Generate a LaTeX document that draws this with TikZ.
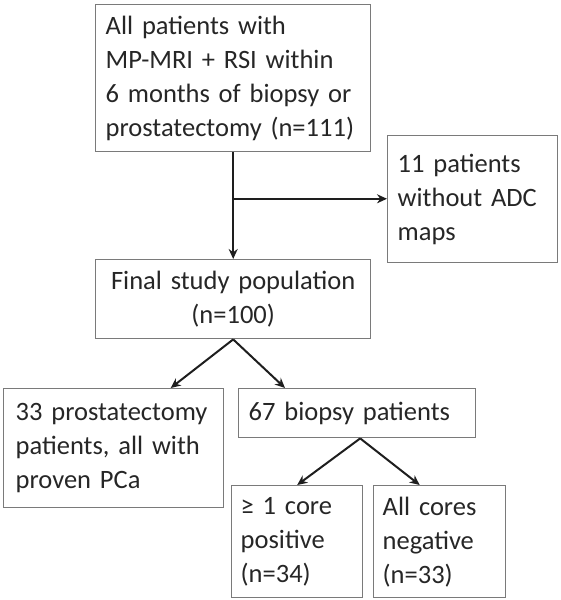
\documentclass[tikz,border=0pt]{standalone}
\usepackage{fontspec}
\setmainfont[WordSpace=0.85]{Carlito}
\usetikzlibrary{arrows.meta,calc}
\definecolor{boxline}{HTML}{7A7A7A}
\definecolor{txt}{HTML}{262626}
\definecolor{arr}{HTML}{1E1E1E}
\begin{document}
\begin{tikzpicture}[x=1pt,y=-1pt,
  fbox/.style={draw=boxline, line width=1.4pt, rectangle, anchor=north west,
    text=txt, font=\fontsize{26.5}{34}\selectfont, inner xsep=10pt, inner ysep=0pt,
    align=left},
  conn/.style={draw=arr, line width=2pt, -{Stealth[length=10pt,width=9pt]}}]
\useasboundingbox (0,0) rectangle (561,600);
\node[fbox, minimum width=275pt, minimum height=147pt, text width=255pt] (top) at (95,4)
  {\mbox{All patients with}\\\mbox{MP-MRI + RSI within}\\\mbox{6 months of biopsy or}\\\mbox{prostatectomy (n=111)}};
\node[fbox, minimum width=170pt, minimum height=127pt, text width=150pt] (excl) at (387,135)
  {\mbox{11 patients}\\\mbox{without ADC}\\maps};
\node[fbox, minimum width=275pt, minimum height=79pt, text width=255pt, align=center] (final) at (95,259)
  {\mbox{Final study population}\\(n=100)};
\node[fbox, minimum width=220pt, minimum height=119pt, inner xsep=12pt, text width=196pt] (prost) at (3,388)
  {\mbox{33 prostatectomy}\\\mbox{patients, all with}\\\mbox{proven PCa}};
\node[fbox, minimum width=237pt, minimum height=49pt, text width=217pt] (biopsy) at (238,388)
  {\mbox{67 biopsy patients}};
\node[fbox, minimum width=131pt, minimum height=112pt, text width=113pt, inner xsep=9pt] (pos) at (231,485)
  {\mbox{≥ 1 core}\\positive\\(n=34)};
\node[fbox, minimum width=132pt, minimum height=112pt, text width=114pt, inner xsep=9pt] (neg) at (373,485)
  {\mbox{All cores}\\negative\\(n=33)};
\coordinate (branch) at ($(top.south)!0.435!(final.north)$);
\draw[conn] (top.south) -- (final.north);
\draw[conn] (branch) -- (branch -| excl.west);
\draw[conn] (final.south) -- ($(prost.north)+(57,0)$);
\draw[conn] (final.south) -- ($(biopsy.north west)+(47,0)$);
\draw[conn] ($(biopsy.south)+(3,0)$) -- (pos.north);
\draw[conn] ($(biopsy.south)+(3,0)$) -- ($(neg.north)+(-20,0)$);
\end{tikzpicture}
\end{document}
